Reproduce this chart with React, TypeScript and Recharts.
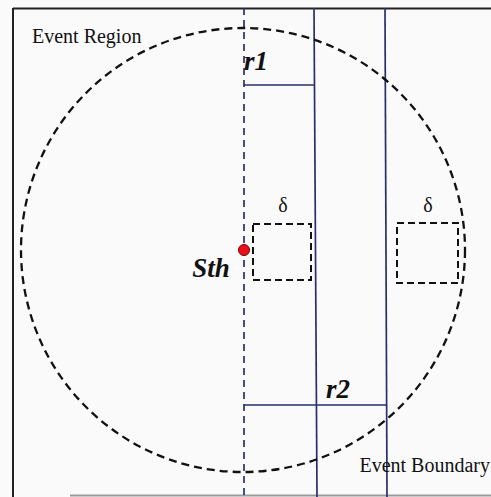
import React from 'react';
import { ComposedChart, XAxis, YAxis, ReferenceLine, ReferenceDot, ReferenceArea, Scatter } from 'recharts';

// Diagram coordinates (domain units)
const eventCircle = { cx: 243, cy: 250, r: 222 };
const sensorPoint = [{ x: 244, y: 250 }];
const centerAxis = [{ x: 244, y: 8 }, { x: 244, y: 497 }];
const stripLines = [
  [{ x: 314, y: 8 }, { x: 317, y: 497 }],
  [{ x: 385, y: 8 }, { x: 387, y: 497 }],
];
const radiusLines = [
  [{ x: 244, y: 85 }, { x: 314, y: 85 }],
  [{ x: 244, y: 405 }, { x: 387, y: 405 }],
];
const deltaBoxes = [
  { x1: 253, x2: 311, y1: 224, y2: 280 },
  { x1: 397, x2: 458, y1: 223, y2: 283 },
];
const frameTop = [{ x: 13, y: 8.5 }, { x: 491, y: 8.5 }];
const frameLeft = [{ x: 13, y: 8 }, { x: 13, y: 497 }];
const frameBottom = [{ x: 70, y: 495.5 }, { x: 491, y: 495.5 }];

const plainLabels = [
  { text: 'Event Region', x: 32, y: 43, anchor: 'start' },
  { text: 'Event Boundary', x: 490, y: 472, anchor: 'end' },
  { text: 'δ', x: 283, y: 212, anchor: 'middle' },
  { text: 'δ', x: 428, y: 212, anchor: 'middle' },
];
const boldLabels = [
  { text: 'r1', x: 256, y: 70, anchor: 'middle' },
  { text: 'r2', x: 338, y: 398, anchor: 'middle' },
  { text: 'Sth', x: 211, y: 277, anchor: 'middle' },
];

const NAVY = '#27306b';
const SERIF = '"Liberation Serif", "DejaVu Serif", serif';

const makeText = (text: string, anchor: string, bold: boolean) => (props: any) => {
  const vb = props.viewBox || {};
  return (
    <text
      x={vb.x}
      y={vb.y}
      textAnchor={anchor}
      fontFamily={SERIF}
      fontSize={bold ? 27 : 20}
      fontWeight={bold ? 'bold' : 'normal'}
      fontStyle={bold ? 'italic' : 'normal'}
      fill="#111"
    >
      {text}
    </text>
  );
};

export default function App() {
  return (
    <div style={{ position: 'absolute', left: 0, top: 0, width: 491, height: 497, background: '#fafafa' }}>
      <ComposedChart width={491} height={497} margin={{ top: 0, right: 0, bottom: 0, left: 0 }} data={sensorPoint}>
        <XAxis type="number" dataKey="x" domain={[0, 491]} hide />
        <YAxis type="number" dataKey="y" domain={[0, 497]} reversed hide />

        <ReferenceLine segment={frameTop} stroke="#222" strokeWidth={2} ifOverflow="visible" />
        <ReferenceLine segment={frameLeft} stroke="#222" strokeWidth={2} ifOverflow="visible" />
        <ReferenceLine segment={frameBottom} stroke="#9a9a9a" strokeWidth={2} ifOverflow="visible" />

        {stripLines.map((s, i) => (
          <ReferenceLine key={'s' + i} segment={s} stroke={NAVY} strokeWidth={1.7} ifOverflow="visible" />
        ))}
        {radiusLines.map((s, i) => (
          <ReferenceLine key={'r' + i} segment={s} stroke={NAVY} strokeWidth={1.7} ifOverflow="visible" />
        ))}
        <ReferenceLine segment={centerAxis} stroke={NAVY} strokeWidth={1.7} strokeDasharray="7 5" ifOverflow="visible" />

        <ReferenceDot
          x={eventCircle.cx}
          y={eventCircle.cy}
          r={eventCircle.r}
          fill="none"
          stroke="#111"
          strokeWidth={2.3}
          strokeDasharray="8 5"
          ifOverflow="visible"
        />

        {deltaBoxes.map((b, i) => (
          <ReferenceArea
            key={'d' + i}
            x1={b.x1}
            x2={b.x2}
            y1={b.y1}
            y2={b.y2}
            fill="none"
            fillOpacity={0}
            stroke="#111"
            strokeWidth={2}
            strokeDasharray="7 4"
            ifOverflow="visible"
          />
        ))}

        {plainLabels.map((l, i) => (
          <ReferenceDot key={'pl' + i} x={l.x} y={l.y} r={0} fill="none" stroke="none" ifOverflow="visible"
            label={{ content: makeText(l.text, l.anchor, false) }} />
        ))}
        {boldLabels.map((l, i) => (
          <ReferenceDot key={'bl' + i} x={l.x} y={l.y} r={0} fill="none" stroke="none" ifOverflow="visible"
            label={{ content: makeText(l.text, l.anchor, true) }} />
        ))}

        <Scatter data={sensorPoint} dataKey="y" fill="#e8101a" stroke="#7a0000" strokeWidth={1}
          isAnimationActive={false}
          shape={(p: any) => <circle cx={p.cx} cy={p.cy} r={5.5} fill="#e8101a" stroke="#7a0000" strokeWidth={1} />} />
      </ComposedChart>
    </div>
  );
}
